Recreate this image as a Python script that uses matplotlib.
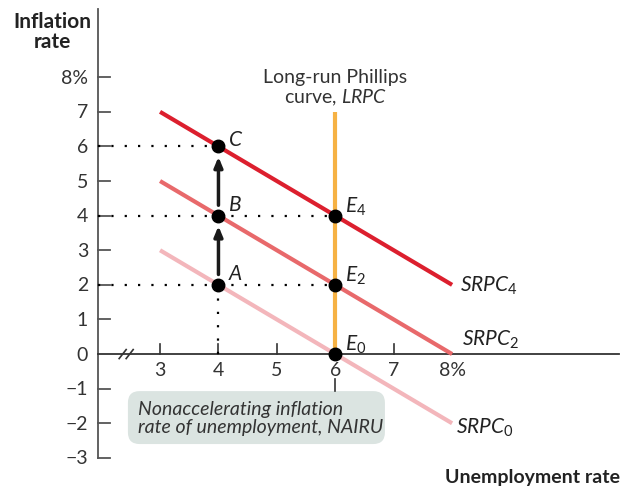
import matplotlib
matplotlib.use("Agg")
import matplotlib.pyplot as plt
from matplotlib.patches import FancyBboxPatch

plt.rcParams["font.family"] = ["Lato", "DejaVu Sans"]
plt.rcParams["mathtext.fontset"] = "custom"
plt.rcParams["mathtext.rm"] = "Lato"
plt.rcParams["mathtext.it"] = "Lato:italic"

# short-run Phillips curves: (unemployment, inflation) end points
U_SRPC = [3, 8]
SRPC = {"0": [3, -2], "2": [5, 0], "4": [7, 2]}
SRPC_COLORS = {"0": "#f3b6bb", "2": "#e8696b", "4": "#dc1f2e"}
NAIRU = 6
LRPC_TOP = 7
POINTS = {"A": (4, 2), "B": (4, 4), "C": (4, 6),
          "E_0": (6, 0), "E_2": (6, 2), "E_4": (6, 4)}
X_TICKS = [3, 4, 5, 6, 7, 8]
X_LABELS = ["3", "4", "5", "6", "7", "8%"]
Y_TICKS = [8, 7, 6, 5, 4, 3, 2, 1, 0, -1, -2, -3]
Y_LABELS = ["8%", "7", "6", "5", "4", "3", "2", "1", "0", "\u22121", "\u22122", "\u22123"]

fig = plt.figure(figsize=(6.25, 4.89), dpi=100)
ax = fig.add_axes([0, 0, 1, 1])
ax.set_xlim(0.26, 10.96)
ax.set_ylim(-3.87, 10.26)
ax.axis("off")

YAX = 1.94
ax.plot([YAX, YAX], [-3, 9.97], color="#555555", lw=1.3)
ax.plot([YAX, 10.85], [0, 0], color="#333333", lw=1.3)
# axis break
for dx in (0, 0.12):
    ax.plot([2.3 + dx, 2.42 + dx], [-0.13, 0.13], color="#333333", lw=1.2)

for y, lab in zip(Y_TICKS, Y_LABELS):
    if y != 0:
        ax.plot([YAX, YAX + 0.2], [y, y], color="#555555", lw=1.3)
    ax.text(1.77, y, lab, ha="right", va="center", fontsize=14, color="#333333")
for x, lab in zip(X_TICKS, X_LABELS):
    if x not in (6, 8):
        ax.plot([x, x], [0, 0.3], color="#333333", lw=1.2)
    ax.text(x, -0.2, lab, ha="center", va="top", fontsize=14, color="#333333")

# NAIRU pointer and box
ax.plot([NAIRU, NAIRU], [-0.72, -1.07], color="#333333", lw=1.2)
box = FancyBboxPatch((2.45, -2.6), 4.4, 1.53, boxstyle="round,pad=0,rounding_size=0.2",
                     fc="#dbe4e1", ec="none", mutation_aspect=58.4 / 34.6, zorder=1)
ax.add_patch(box)
ax.text(2.62, -1.83, "Nonaccelerating inflation\nrate of unemployment, NAIRU",
        ha="left", va="center", fontsize=14, style="italic", color="#333333",
        linespacing=1.05)

# dotted guides
dot = dict(color="black", lw=1.6, ls=(0, (1, 5)), zorder=2)
ax.plot([YAX, 4], [6, 6], **dot)
ax.plot([YAX, 6], [4, 4], **dot)
ax.plot([YAX, 6], [2, 2], **dot)
ax.plot([4, 4], [0, 2], **dot)

# curves
for k, ys in SRPC.items():
    ax.plot(U_SRPC, ys, color=SRPC_COLORS[k], lw=3, solid_capstyle="butt", zorder=3)
ax.plot([NAIRU, NAIRU], [0, LRPC_TOP], color="#f6b244", lw=3, solid_capstyle="butt", zorder=3)

# arrows
for y0, y1 in [(2.3, 3.7), (4.3, 5.7)]:
    ax.annotate("", xy=(4, y1), xytext=(4, y0),
                arrowprops=dict(arrowstyle="-|>,head_length=0.6,head_width=0.25",
                                color="#1a1a1a", lw=2.5, shrinkA=0, shrinkB=0), zorder=4)

label_dy = {"A": 0.17, "B": 0.15, "C": 0.05, "E_0": 0.12, "E_2": 0.12, "E_4": 0.12}
for name, (x, y) in POINTS.items():
    ax.plot(x, y, "o", color="black", ms=9, zorder=5)
    ax.text(x + 0.16, y + label_dy[name], "$\\mathit{%s}$" % name, ha="left",
            va="baseline", fontsize=15, color="#222222", zorder=6)

srpc_pos = {"4": (8.14, 2.0), "2": (8.17, 0.43), "0": (8.07, -2.1)}
for k in SRPC:
    ax.text(*srpc_pos[k], "$\\mathit{SRPC}_{%s}$" % k, ha="left", va="center",
            fontsize=15, color="#222222")

ax.text(NAIRU, 7.15, "Long-run Phillips\ncurve, $\\mathit{LRPC}$", ha="center",
        va="bottom", fontsize=14, color="#333333", linespacing=1.1)

ax.text(1.15, 9.33, "Inflation\nrate", ha="center", va="center", fontsize=15,
        fontweight="bold", color="#222222", linespacing=1.0)
ax.text(10.88, -3.55, "Unemployment rate", ha="right", va="center", fontsize=14,
        fontweight="bold", color="#222222")

fig.savefig("out.png", dpi=100)
